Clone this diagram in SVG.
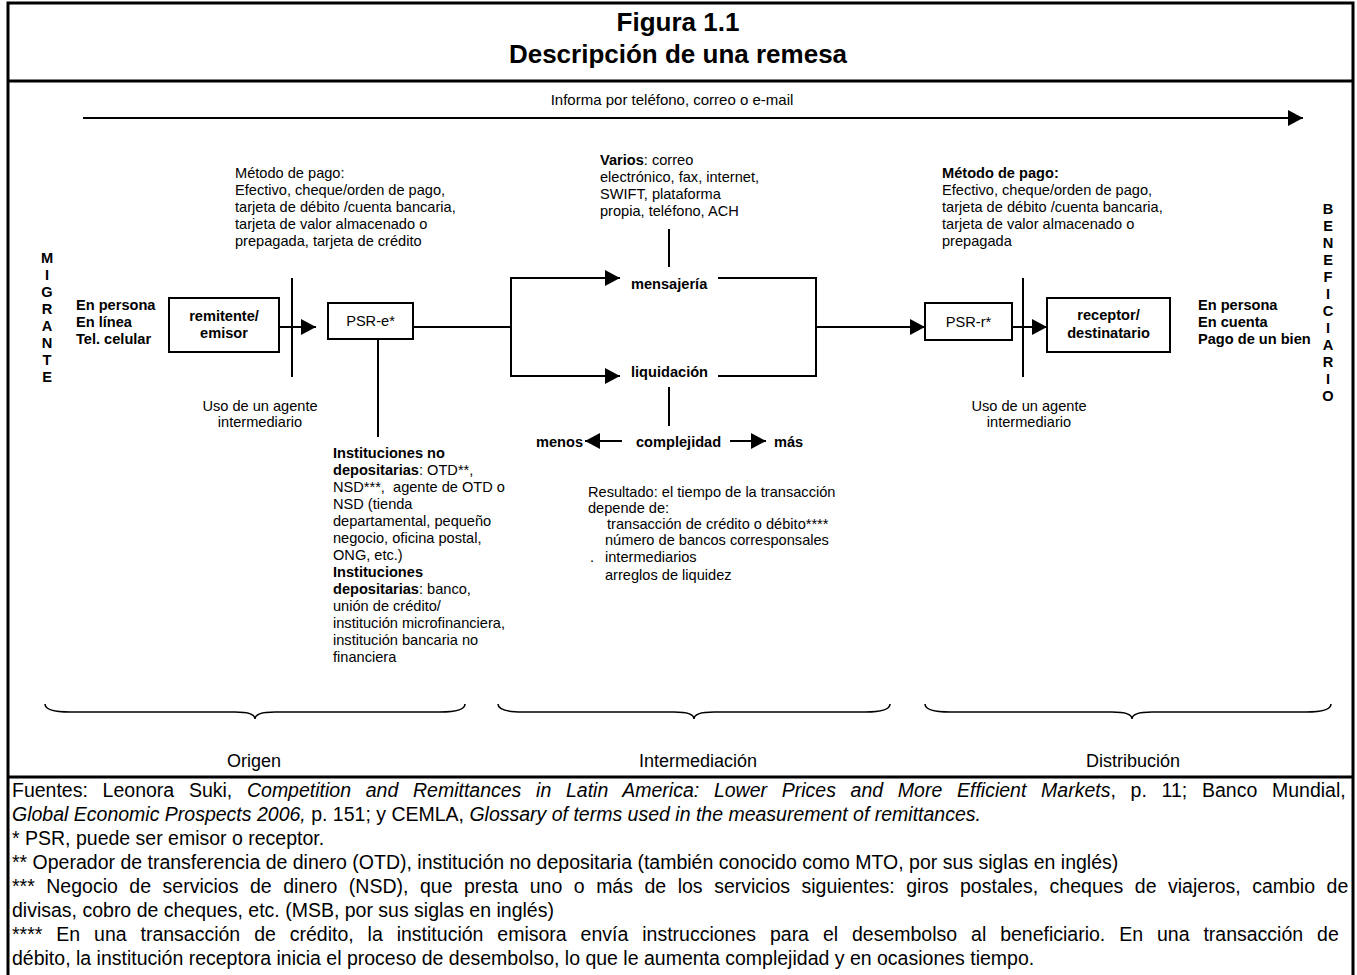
<svg xmlns="http://www.w3.org/2000/svg" width="1357" height="975" viewBox="0 0 1357 975">
<style>
text{font-family:"Liberation Sans",Arial,Helvetica,sans-serif;fill:#000}
.t{font-size:14.6px}
.b{font-weight:bold}
.h{font-size:26px;font-weight:bold;text-anchor:middle}
.f{font-size:19.5px}
.s{font-size:18px;text-anchor:middle}
.c{text-anchor:middle}
.i{font-style:italic}
.ln{stroke:#000;stroke-width:2;fill:none}
.fr{stroke:#000;stroke-width:3;fill:none}
.box{stroke:#000;stroke-width:2;fill:#fff}
.br{stroke:#000;stroke-width:1.6;fill:none}
</style>
<defs>
<marker id="ah" markerUnits="userSpaceOnUse" markerWidth="15" markerHeight="16" refX="15" refY="8" orient="auto">
<path d="M0,0 L15,8 L0,16 z" fill="#000"/>
</marker>
</defs>
<rect width="1357" height="975" fill="#fff"/>
<g id="frame">
<path class="fr" d="M8,975 V3 H1353 V975"/>
<line class="fr" x1="8" y1="81" x2="1353" y2="81"/>
<line class="fr" x1="8" y1="777" x2="1353" y2="777"/>
</g>
<g id="title">
<text class="h" x="678" y="31">Figura 1.1</text>
<text class="h" x="678" y="63">Descripción de una remesa</text>
</g>
<g id="connectors">
<line class="ln" x1="83" y1="118" x2="1303" y2="118" marker-end="url(#ah)"/>
<line class="ln" x1="279" y1="327" x2="316" y2="327" marker-end="url(#ah)"/>
<line class="ln" x1="292" y1="278" x2="292" y2="377"/>
<line class="ln" x1="413" y1="327" x2="511" y2="327"/>
<line class="ln" x1="378" y1="339" x2="378" y2="437"/>
<polyline class="ln" points="620,278 511,278 511,376 620,376"/>
<line class="ln" x1="511" y1="278" x2="620" y2="278" marker-end="url(#ah)"/>
<line class="ln" x1="511" y1="376" x2="620" y2="376" marker-end="url(#ah)"/>
<polyline class="ln" points="718,278 816,278 816,376 718,376"/>
<line class="ln" x1="816" y1="327" x2="925" y2="327" marker-end="url(#ah)"/>
<line class="ln" x1="669" y1="229" x2="669" y2="267"/>
<line class="ln" x1="669" y1="387" x2="669" y2="426"/>
<line class="ln" x1="622" y1="441" x2="585" y2="441" marker-end="url(#ah)"/>
<line class="ln" x1="730" y1="441" x2="766" y2="441" marker-end="url(#ah)"/>
<line class="ln" x1="1012" y1="327" x2="1047" y2="327" marker-end="url(#ah)"/>
<line class="ln" x1="1023" y1="278" x2="1023" y2="377"/>
</g>
<g id="informa">
<text class="c" x="672" y="105" style="font-size:15px">Informa por teléfono, correo o e-mail</text>
</g>
<g id="migrante" class="t b c">
<text x="47" y="263">M</text><text x="47" y="280">I</text><text x="47" y="297">G</text><text x="47" y="314">R</text><text x="47" y="331">A</text><text x="47" y="348">N</text><text x="47" y="365">T</text><text x="47" y="382">E</text>
</g>
<g id="canales-origen" class="t b">
<text x="76" y="310">En persona</text>
<text x="76" y="327">En línea</text>
<text x="76" y="344">Tel. celular</text>
</g>
<g id="remitente">
<rect class="box" x="169" y="298" width="110" height="54"/>
<text class="t b c" x="224" y="321">remitente/</text>
<text class="t b c" x="224" y="338">emisor</text>
</g>
<g id="metodo-pago-origen" class="t">
<text x="235" y="178">Método de pago:</text>
<text x="235" y="195">Efectivo, cheque/orden de pago,</text>
<text x="235" y="212">tarjeta de débito /cuenta bancaria,</text>
<text x="235" y="229">tarjeta de valor almacenado o</text>
<text x="235" y="246">prepagada, tarjeta de crédito</text>
</g>
<g id="psr-e">
<rect class="box" x="328" y="303" width="85" height="36"/>
<text class="t c" x="370.5" y="326">PSR-e*</text>
</g>
<g id="uso-agente-origen" class="t c">
<text x="260" y="411">Uso de un agente</text>
<text x="260" y="427">intermediario</text>
</g>
<g id="instituciones" class="t">
<text x="333" y="458" class="b">Instituciones no</text>
<text x="333" y="475"><tspan class="b">depositarias</tspan>: OTD**,</text>
<text x="333" y="492" xml:space="preserve">NSD***,  agente de OTD o</text>
<text x="333" y="509">NSD (tienda</text>
<text x="333" y="526">departamental, pequeño</text>
<text x="333" y="543">negocio, oficina postal,</text>
<text x="333" y="560">ONG, etc.)</text>
<text x="333" y="577" class="b">Instituciones</text>
<text x="333" y="594"><tspan class="b">depositarias</tspan>: banco,</text>
<text x="333" y="611">unión de crédito/</text>
<text x="333" y="628">institución microfinanciera,</text>
<text x="333" y="645">institución bancaria no</text>
<text x="333" y="662">financiera</text>
</g>
<g id="varios" class="t">
<text x="600" y="165"><tspan class="b">Varios</tspan>: correo</text>
<text x="600" y="182">electrónico, fax, internet,</text>
<text x="600" y="199">SWIFT, plataforma</text>
<text x="600" y="216">propia, teléfono, ACH</text>
</g>
<g id="mensajeria">
<text class="t b" x="631" y="289">mensajería</text>
</g>
<g id="liquidacion">
<text class="t b" x="631" y="377">liquidación</text>
</g>
<g id="complejidad" class="t b">
<text x="536" y="447">menos</text>
<text x="636" y="447">complejidad</text>
<text x="774" y="447">más</text>
</g>
<g id="resultado" class="t">
<text x="588" y="497">Resultado: el tiempo de la transacción</text>
<text x="588" y="513">depende de:</text>
<text x="607" y="529">transacción de crédito o débito****</text>
<text x="605" y="545">número de bancos corresponsales</text>
<text x="590" y="562">.</text>
<text x="605" y="562">intermediarios</text>
<text x="605" y="580">arreglos de liquidez</text>
</g>
<g id="psr-r">
<rect class="box" x="925" y="303" width="87" height="37"/>
<text class="t c" x="968.5" y="327">PSR-r*</text>
</g>
<g id="receptor">
<rect class="box" x="1047" y="298" width="123" height="54"/>
<text class="t b c" x="1108.5" y="320">receptor/</text>
<text class="t b c" x="1108.5" y="338">destinatario</text>
</g>
<g id="metodo-pago-destino" class="t">
<text x="942" y="178" class="b">Método de pago:</text>
<text x="942" y="195">Efectivo, cheque/orden de pago,</text>
<text x="942" y="212">tarjeta de débito /cuenta bancaria,</text>
<text x="942" y="229">tarjeta de valor almacenado o</text>
<text x="942" y="246">prepagada</text>
</g>
<g id="uso-agente-destino" class="t c">
<text x="1029" y="411">Uso de un agente</text>
<text x="1029" y="427">intermediario</text>
</g>
<g id="canales-destino" class="t b">
<text x="1198" y="310">En persona</text>
<text x="1198" y="327">En cuenta</text>
<text x="1198" y="344">Pago de un bien</text>
</g>
<g id="beneficiario" class="t b c">
<text x="1328" y="214">B</text><text x="1328" y="231">E</text><text x="1328" y="248">N</text><text x="1328" y="265">E</text><text x="1328" y="282">F</text><text x="1328" y="299">I</text><text x="1328" y="316">C</text><text x="1328" y="333">I</text><text x="1328" y="350">A</text><text x="1328" y="367">R</text><text x="1328" y="384">I</text><text x="1328" y="401">O</text>
</g>
<g id="secciones">
<path class="br" d="M45,704 Q45,712 70,712 L235,712 Q255,712 255,719 Q255,712 275,712 L440,712 Q465,712 465,704"/>
<path class="br" d="M498,704 Q498,712 523,712 L674,712 Q694,712 694,719 Q694,712 714,712 L865,712 Q890,712 890,704"/>
<path class="br" d="M925,704 Q925,712 950,712 L1112,712 Q1132,712 1132,719 Q1132,712 1152,712 L1306,712 Q1331,712 1331,704"/>
<text class="s" x="254" y="767">Origen</text>
<text class="s" x="698" y="767">Intermediación</text>
<text class="s" x="1133" y="767">Distribución</text>
</g>
<g id="notas" class="f">
<text x="12" y="797" word-spacing="9.3">Fuentes: Leonora Suki, <tspan class="i">Competition and Remittances in Latin America: Lower Prices and More Efficient Markets</tspan>, p. 11; Banco Mundial,</text>
<text x="12" y="821"><tspan class="i">Global Economic Prospects 2006,</tspan> p. 151; y CEMLA, <tspan class="i">Glossary of terms used in the measurement of remittances.</tspan></text>
<text x="12" y="845">* PSR, puede ser emisor o receptor.</text>
<text x="12" y="869">** Operador de transferencia de dinero (OTD), institución no depositaria (también conocido como MTO, por sus siglas en inglés)</text>
<text x="12" y="893" word-spacing="6.1">*** Negocio de servicios de dinero (NSD), que presta uno o más de los servicios siguientes: giros postales, cheques de viajeros, cambio de</text>
<text x="12" y="917">divisas, cobro de cheques, etc. (MSB, por sus siglas en inglés)</text>
<text x="12" y="941" word-spacing="8.5">**** En una transacción de crédito, la institución emisora envía instrucciones para el desembolso al beneficiario. En una transacción de</text>
<text x="12" y="965">débito, la institución receptora inicia el proceso de desembolso, lo que le aumenta complejidad y en ocasiones tiempo.</text>
</g>
</svg>
